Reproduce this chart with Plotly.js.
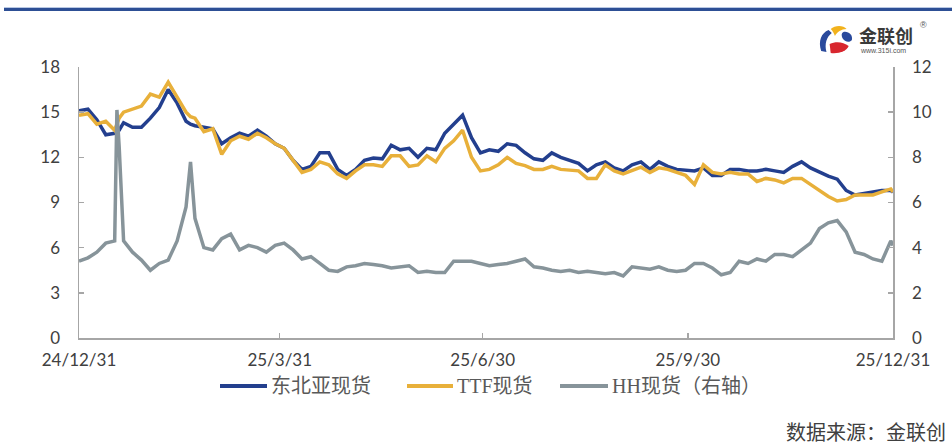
<!DOCTYPE html>
<html><head><meta charset="utf-8">
<script src="https://cdn.plot.ly/plotly-3.0.1.min.js"></script>
<style>html,body{margin:0;padding:0;background:#fff;}#chart{width:952px;height:448px;}</style>
</head><body><div id="chart"></div>
<script>
const dates = ["2024-12-31","2025-01-04","2025-01-08","2025-01-12","2025-01-16","2025-01-17","2025-01-18","2025-01-20","2025-01-24","2025-01-28",
"2025-02-01","2025-02-05","2025-02-09","2025-02-13","2025-02-17","2025-02-19","2025-02-21","2025-02-25","2025-03-01","2025-03-05",
"2025-03-09","2025-03-13","2025-03-17","2025-03-21","2025-03-25","2025-03-29","2025-04-02","2025-04-06","2025-04-10","2025-04-14",
"2025-04-18","2025-04-22","2025-04-26","2025-04-30","2025-05-04","2025-05-08","2025-05-12","2025-05-16","2025-05-20","2025-05-24",
"2025-05-28","2025-06-01","2025-06-05","2025-06-09","2025-06-13","2025-06-17","2025-06-21","2025-06-25","2025-06-29","2025-07-03",
"2025-07-07","2025-07-11","2025-07-15","2025-07-19","2025-07-23","2025-07-27","2025-07-31","2025-08-04","2025-08-08","2025-08-12",
"2025-08-16","2025-08-20","2025-08-24","2025-08-28","2025-09-01","2025-09-05","2025-09-09","2025-09-13","2025-09-17","2025-09-21",
"2025-09-25","2025-09-29","2025-10-03","2025-10-07","2025-10-11","2025-10-15","2025-10-19","2025-10-23","2025-10-27","2025-10-31",
"2025-11-04","2025-11-08","2025-11-12","2025-11-16","2025-11-20","2025-11-24","2025-11-28","2025-12-02","2025-12-06","2025-12-10",
"2025-12-14","2025-12-18","2025-12-22","2025-12-26","2025-12-30","2025-12-31"];

const neAsia = [15.1,15.2,14.5,13.5,13.6,13.7,13.8,14.3,14.0,14.0,
14.6,15.3,16.5,15.6,14.4,14.2,14.1,14.0,13.9,12.9,
13.3,13.6,13.4,13.8,13.4,12.9,12.6,11.8,11.2,11.4,
12.3,12.3,11.2,10.8,11.2,11.8,11.95,11.9,12.8,12.5,
12.6,12.0,12.6,12.5,13.6,14.2,14.8,13.3,12.3,12.5,
12.4,12.9,12.8,12.3,11.9,11.8,12.3,12.0,11.8,11.6,
11.1,11.5,11.7,11.3,11.1,11.5,11.7,11.2,11.7,11.4,
11.2,11.15,11.1,11.3,10.8,10.8,11.2,11.2,11.1,11.1,
11.2,11.1,11.0,11.4,11.7,11.3,11.0,10.75,10.55,9.8,
9.5,9.6,9.7,9.8,9.8,9.7];

const ttf = [14.8,14.9,14.2,14.4,13.8,14.2,14.6,15.0,15.2,15.4,
16.2,16.0,17.0,16.0,15.0,14.7,14.6,13.7,13.9,12.2,
13.1,13.4,13.2,13.6,13.3,12.9,12.6,11.8,11.0,11.2,
11.7,11.5,10.9,10.6,11.1,11.5,11.5,11.4,12.1,12.1,
11.4,11.5,12.1,11.7,12.6,13.1,13.8,12.0,11.1,11.2,
11.5,12.0,11.6,11.45,11.2,11.2,11.4,11.2,11.15,11.1,
10.6,10.6,11.5,11.1,10.9,11.15,11.35,11.0,11.3,11.2,
11.0,10.8,10.2,11.5,11.0,10.9,11.0,10.9,10.9,10.4,
10.6,10.5,10.3,10.6,10.6,10.2,9.8,9.4,9.1,9.2,
9.5,9.5,9.5,9.7,9.9,9.7];

const hh = [3.4,3.55,3.8,4.2,4.3,10.1,8.5,4.3,3.8,3.45,
3.0,3.3,3.45,4.3,5.8,7.8,5.3,4.0,3.9,4.4,
4.6,3.9,4.1,4.0,3.8,4.1,4.2,3.9,3.5,3.6,
3.3,3.0,2.95,3.15,3.2,3.3,3.25,3.2,3.1,3.15,
3.2,2.9,2.95,2.9,2.9,3.4,3.4,3.4,3.3,3.2,
3.25,3.3,3.4,3.5,3.15,3.1,3.0,2.95,3.0,2.9,
2.95,2.9,2.85,2.9,2.75,3.15,3.1,3.05,3.15,3.0,
2.95,3.0,3.3,3.3,3.1,2.8,2.9,3.4,3.3,3.5,
3.4,3.7,3.7,3.6,3.9,4.2,4.85,5.1,5.2,4.7,
3.8,3.7,3.5,3.4,4.3,4.1];

const seriesNames = ["东北亚现货","TTF现货","HH现货（右轴）"];
const seriesColors = ["#233f8e","#e8b03a","#87949a"];
const xTickVals = ["2024-12-31","2025-03-31","2025-06-30","2025-09-30","2025-12-31"];
const xTickText = ["24/12/31","25/3/31","25/6/30","25/9/30","25/12/31"];

const tickFont = {family:"Lato, 'Liberation Sans', sans-serif", size:17, color:"#404040"};
const axisCommon = {showgrid:false, zeroline:false, showline:true, linecolor:"#a6a6a6", linewidth:1.5,
  ticks:"inside", ticklen:5, tickcolor:"#a6a6a6", tickwidth:1.5, tickfont:tickFont};

const traces = [
  {x:dates, y:neAsia, name:seriesNames[0], type:"scatter", mode:"lines", line:{color:seriesColors[0], width:3.5}},
  {x:dates, y:ttf, name:seriesNames[1], type:"scatter", mode:"lines", line:{color:seriesColors[1], width:3.5}},
  {x:dates, y:hh, name:seriesNames[2], type:"scatter", mode:"lines", yaxis:"y2", line:{color:seriesColors[2], width:3.5}}
];

// plot-area pixel helpers for decoration (legend, logo, source)
const PL = 79, PW = 814, PB = 338, PH = 271;
const px = v => (v - PL) / PW;
const py = v => (PB - v) / PH;

const iconSvg = '<svg xmlns="http://www.w3.org/2000/svg" width="34" height="30" viewBox="0 0 34 30">'+
 '<path d="M10 6 C3 9 0 17 3 27 L8 28 C6 20 8 13 13 9 Z" fill="#2a4a9c"/>'+
 '<path d="M12 5 C16 1 24 1 27 5 C22 5 18 8 16 12 C15 9 14 7 12 5 Z" fill="#f2b21c"/>'+
 '<path d="M11 20 C17 17 24 18 29 22 C27 27 20 30 12 29 Z" fill="#d8262e"/>'+
 '<path d="M24 8 C29 7 33 11 32 16 C30 19 25 18 23 14 C22 11 22 9 24 8 Z" fill="#2a4a9c"/>'+
 '</svg>';

const legendLines = [[220,267],[407,453],[560,608]];
const legendFont = {family:"'Liberation Serif', 'Noto Sans CJK SC', serif", size:20, color:"#595959"};
const legendY = 386;

const shapes = [
  {type:"line", xref:"paper", yref:"paper", x0:px(4), x1:px(952), y0:py(9.5), y1:py(9.5), line:{color:"#2d4f95", width:3}},
  {type:"line", xref:"paper", yref:"paper", x0:px(4), x1:px(952), y0:py(7.5), y1:py(7.5), line:{color:"#b9c8e3", width:1}}
];
const annotations = [
  {text:"<b>金联创</b>", xref:"paper", yref:"paper", x:px(858), y:py(35), xanchor:"left", yanchor:"middle", borderpad:0,
   showarrow:false, font:{family:"'Noto Sans CJK SC', sans-serif", size:18, color:"#3a3a3a"}},
  {text:"®", xref:"paper", yref:"paper", x:px(919), y:py(25), xanchor:"left", yanchor:"middle", borderpad:0,
   showarrow:false, font:{family:"'Liberation Sans', sans-serif", size:9, color:"#555555"}},
  {text:"www.315i.com", xref:"paper", yref:"paper", x:px(859), y:py(51), xanchor:"left", yanchor:"middle", borderpad:0,
   showarrow:false, font:{family:"'Liberation Sans', sans-serif", size:7, color:"#555555"}},
  {text:"数据来源：金联创", xref:"paper", yref:"paper", x:px(948), y:py(431), xanchor:"right", yanchor:"middle",
   showarrow:false, font:{family:"'Noto Sans CJK SC', serif", size:20, color:"#404040"}}
];
legendLines.forEach((l, i) => {
  shapes.push({type:"line", xref:"paper", yref:"paper", x0:px(l[0]), x1:px(l[1]), y0:py(legendY), y1:py(legendY),
    line:{color:seriesColors[i], width:4}});
  annotations.push({text:seriesNames[i], xref:"paper", yref:"paper", x:px(l[1] + 3), y:py(legendY), xanchor:"left", yanchor:"middle",
    showarrow:false, font:legendFont, borderpad:0});
});

const layout = {
  width:952, height:448,
  margin:{l:79, r:59, t:67, b:110},
  paper_bgcolor:"#ffffff", plot_bgcolor:"#ffffff",
  showlegend:false,
  xaxis:Object.assign({}, axisCommon, {type:"date", range:["2024-12-31","2025-12-31"],
    tickvals:xTickVals, ticktext:xTickText, ticklabelstandoff:6}),
  yaxis:Object.assign({}, axisCommon, {range:[0,18], dtick:3, tick0:0, ticklabelstandoff:14}),
  yaxis2:Object.assign({}, axisCommon, {range:[0,12], dtick:2, tick0:0, overlaying:"y", side:"right", ticklabelstandoff:14}),
  shapes:shapes,
  images:[
    {source:"data:image/svg+xml;charset=utf-8,"+encodeURIComponent(iconSvg), xref:"paper", yref:"paper",
     x:px(818), y:py(24), sizex:36/PW, sizey:30/PH, xanchor:"left", yanchor:"top", sizing:"stretch", layer:"above"}
  ],
  annotations:annotations
};

Plotly.newPlot("chart", traces, layout, {staticPlot:true, displayModeBar:false});
</script></body></html>
